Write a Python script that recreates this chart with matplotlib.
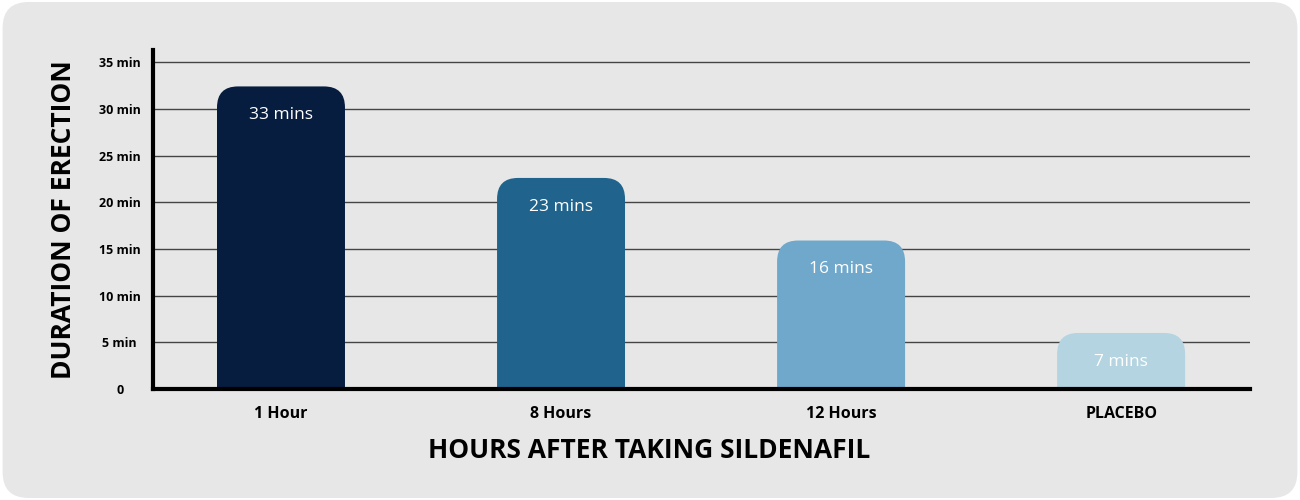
import matplotlib.pyplot as plt
from matplotlib.patches import FancyBboxPatch

# dati del grafico
categorie = ['1 Hour', '8 Hours', '12 Hours', 'PLACEBO']
durate = [32.4, 22.6, 15.9, 6.0]
etichette = ['33 mins', '23 mins', '16 mins', '7 mins']
colori = ['#061d40', '#20648e', '#6fa8cb', '#b3d4e0']
yticks = [0, 5, 10, 15, 20, 25, 30, 35]
ytick_labels = ['0', '5 min', '10 min', '15 min', '20 min', '25 min', '30 min', '35 min']

plt.rcParams['font.family'] = ['Open Sans', 'DejaVu Sans']

fig = plt.figure(figsize=(13, 5), dpi=100)
fig.patch.set_facecolor('white')

# sfondo grigio arrotondato
sfondo = FancyBboxPatch((0.002, 0.004), 0.996, 0.992,
                        boxstyle='round,pad=0,rounding_size=0.02',
                        mutation_aspect=2.6,
                        transform=fig.transFigure, facecolor='#e7e7e7',
                        edgecolor='none', zorder=-10)
fig.patches.append(sfondo)

ax = fig.add_axes([0.1177, 0.222, 0.8438, 0.678])
ax.set_facecolor('none')

x = list(range(len(categorie)))
larghezza = 0.457
raggio_x = 0.075
aspetto = 30.0

for xi, h, col, lab in zip(x, durate, colori, etichette):
    barra = FancyBboxPatch((xi - larghezza / 2, -3), larghezza, h + 3,
                           boxstyle=f'round,pad=0,rounding_size={raggio_x}',
                           mutation_aspect=aspetto,
                           facecolor=col, edgecolor='none', zorder=3)
    ax.add_patch(barra)
    ax.text(xi, h - 3.1, lab, ha='center', va='center', color='white',
            fontsize=12.5, fontweight='normal', zorder=4)

ax.set_xlim(-0.457, 3.46)
ax.set_ylim(0, 36.3)

ax.set_yticks(yticks)
ax.set_yticklabels(ytick_labels)
ax.set_xticks(x)
ax.set_xticklabels(categorie)

ax.tick_params(axis='y', length=0, pad=24, labelsize=9)
ax.tick_params(axis='x', length=0, pad=12, labelsize=11.5)
for t in ax.get_yticklabels():
    t.set_ha('center')
    t.set_fontweight('bold')
for t in ax.get_xticklabels():
    t.set_fontweight('bold')

ax.grid(axis='y', color='#444444', linewidth=1, zorder=1)
ax.set_axisbelow(True)

for s in ['top', 'right']:
    ax.spines[s].set_visible(False)
for s in ['left', 'bottom']:
    ax.spines[s].set_linewidth(3)
    ax.spines[s].set_color('black')
    ax.spines[s].set_zorder(5)

fig.text(0.499, 0.10, 'HOURS AFTER TAKING SILDENAFIL', ha='center', va='center',
         fontsize=19, fontweight='bold')
fig.text(0.049, 0.56, 'DURATION OF ERECTION', ha='center', va='center',
         rotation=90, fontsize=19, fontweight='bold')

fig.savefig('out.png', dpi=100, facecolor=fig.get_facecolor())
